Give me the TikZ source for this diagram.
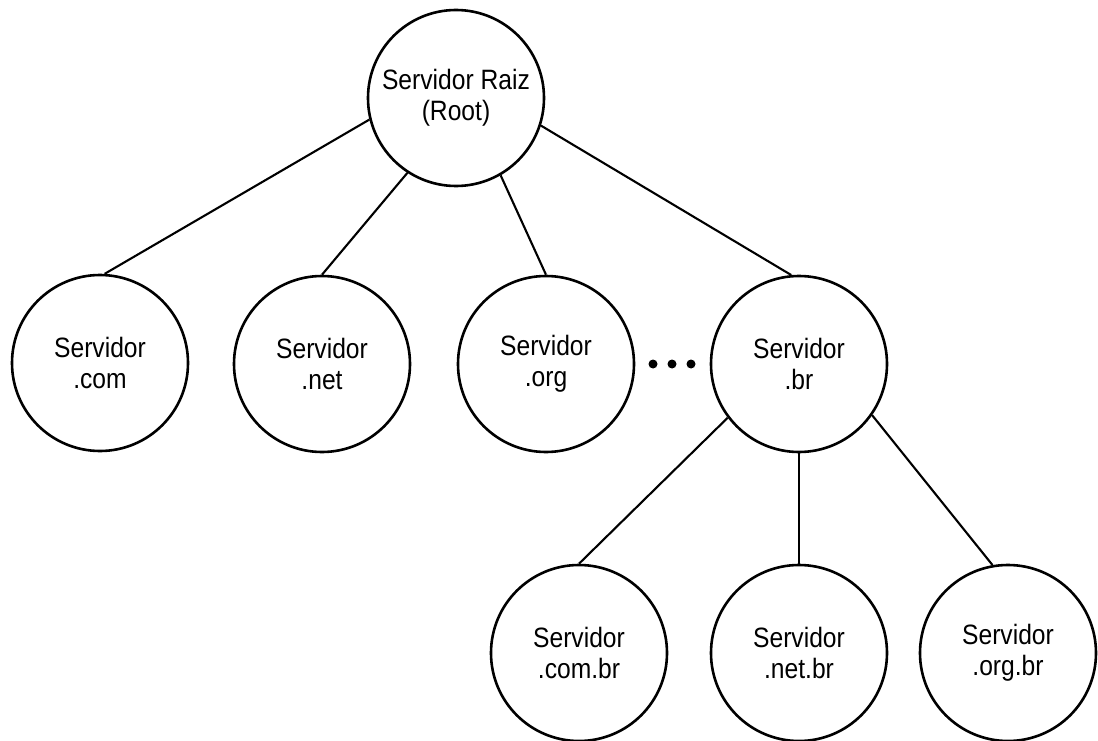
\documentclass[tikz,border=0pt]{standalone}
\usepackage{fontspec}
\setmainfont{Liberation Sans}[FakeStretch=0.88]
\begin{document}
\begin{tikzpicture}[x=1pt,y=-1pt,
  srv/.style={circle, draw, line width=2.6pt, minimum size=176pt, inner sep=0pt,
              align=center, font=\fontsize{28}{31}\selectfont},
  link/.style={line width=2.1pt},
  dot/.style={circle, fill, inner sep=0pt, minimum size=9pt}]
\fill[white] (0,0) rectangle (1098,741);
\useasboundingbox (0,0) rectangle (1098,741);

% top level
\node[srv] (root) at (456,98) {Servidor Raiz\\(Root)};

% first level
\node[srv] (com) at (100,363) {Servidor\\.com};
\node[srv] (net) at (322,364) {Servidor\\.net};
\node[srv] (org) at (546,364) {Servidor\\.org};
\node[srv] (br)  at (799,364) {Servidor\\.br};

% ellipsis between .org and .br
\node[dot] (d1) at (653,364) {};
\node[dot] (d2) at (672,364) {};
\node[dot] (d3) at (691,364) {};

% second level under .br
\node[srv] (combr) at (579,653) {Servidor\\.com.br};
\node[srv] (netbr) at (799,653) {Servidor\\.net.br};
\node[srv] (orgbr) at (1008,653) {Servidor\\.org.br};

% connectors
\draw[link] (root.194) -- (com.87);
\draw[link] (root.237) -- (net.north);
\draw[link] (root.300) -- (org.north);
\draw[link] (root.342) -- (br.95);
\draw[link] (br.217) -- (combr.north);
\draw[link] (br.south) -- (netbr.north);
\draw[link] (br.325) -- (orgbr.100);
\end{tikzpicture}
\end{document}
